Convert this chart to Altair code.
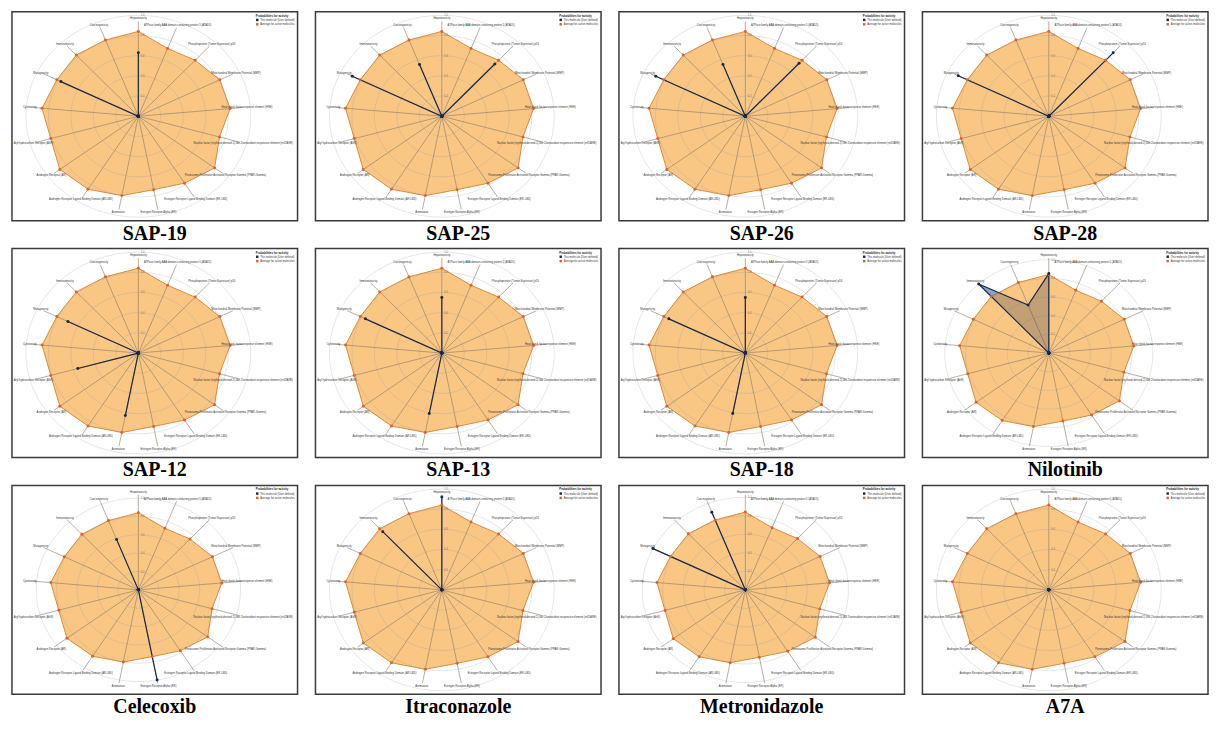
import altair as alt
import pandas as pd

# ---------------- data ----------------
AXES = [
    "Hepatotoxicity",
    "ATPase family AAA domain-containing protein 5 (ATAD5)",
    "Phosphoprotein (Tumor Supressor) p53",
    "Mitochondrial Membrane Potential (MMP)",
    "Heat shock factor response element (HSE)",
    "Nuclear factor (erythroid-derived 2)-like 2/antioxidant responsive element (nrf2/ARE)",
    "Peroxisome Proliferator Activated Receptor Gamma (PPAR-Gamma)",
    "Estrogen Receptor Ligand Binding Domain (ER-LBD)",
    "Estrogen Receptor Alpha (ER)",
    "Aromatase",
    "Androgen Receptor Ligand Binding Domain (AR-LBD)",
    "Androgen Receptor (AR)",
    "Aryl hydrocarbon Receptor (AhR)",
    "Cytotoxicity",
    "Mutagenicity",
    "Immunotoxicity",
    "Carcinogenicity",
]

AVERAGE = [0.84, 0.72, 0.75, 0.81, 0.82, 0.75, 0.85, 0.78, 0.74,
           0.80, 0.85, 0.875, 0.81, 0.86, 0.81, 0.82, 0.81]

PANELS = ["SAP-19", "SAP-25", "SAP-26", "SAP-28",
          "SAP-12", "SAP-13", "SAP-18", "Nilotinib",
          "Celecoxib", "Itraconazole", "Metronidazole", "A7A"]

#            Hep  ATAD p53  MMP  HSE  nrf2 PPAR ERL  ER   Arom ARL  AR   AhR  Cyto Mut  Immu Carc
SAP_19 =    [0.63, 0, 0,    0,   0,   0,   0,   0,   0,   0,   0,   0,   0,   0,   0.77, 0,  0]
SAP_25 =    [0,    0, 0.70, 0,   0,   0,   0,   0,   0,   0,   0,   0,   0,   0,   0.89, 0,  0.55]
SAP_26 =    [0,    0, 0.71, 0,   0,   0,   0,   0,   0,   0,   0,   0,   0,   0,   0.89, 0,  0.55]
SAP_28 =    [0,    0, 0.85, 0,   0,   0,   0,   0,   0,   0,   0,   0,   0,   0,   0.90, 0,  0]
SAP_12 =    [0,    0, 0,    0,   0,   0,   0,   0,   0,   0.63, 0,  0,   0.56, 0,  0.70, 0,  0]
SAP_13 =    [0.55, 0, 0,    0,   0,   0,   0,   0,   0,   0.61, 0,  0,   0,   0,   0.76, 0,  0]
SAP_18 =    [0.55, 0, 0,    0,   0,   0,   0,   0,   0,   0.61, 0,  0,   0,   0,   0.76, 0,  0]
NILOTINIB = [0.85, 0, 0,    0,   0,   0,   0,   0,   0,   0,   0,   0,   0,   0,   0,   1.0, 0.55]
CELECOXIB = [0,    0, 0,    0,   0,   0,   0,   0,   1.0, 0,   0,   0,   0,   0,   0,   0,  0.59]
ITRACONAZOLE = [0.92, 0, 0, 0,   0,   0,   0,   0,   0,   0,   0,   0,   0,   0,   0,   0.78, 0]
METRONIDAZOLE = [0,  0, 0,  0,   0,   0,   0,   0,   0,   0,   0,   0,   0,   0,   1.0, 0,  0.90]
A7A =       [0,    0, 0,    0,   0,   0,   0,   0,   0,   0,   0,   0,   0,   0,   0,   0,  0]

MOLECULE = {
    "SAP-19": SAP_19, "SAP-25": SAP_25, "SAP-26": SAP_26, "SAP-28": SAP_28,
    "SAP-12": SAP_12, "SAP-13": SAP_13, "SAP-18": SAP_18, "Nilotinib": NILOTINIB,
    "Celecoxib": CELECOXIB, "Itraconazole": ITRACONAZOLE,
    "Metronidazole": METRONIDAZOLE, "A7A": A7A,
}

# radial axis maximum of each panel (the radar is auto-scaled per molecule)
AXIS_MAX = {"Nilotinib": 1.08, "Celecoxib": 1.10, "Metronidazole": 1.09}

RING_TICKS = [0.2, 0.4, 0.6, 0.8, 1.0]
SERIES = ["This molecule (User defined)", "Average for active molecules"]

# ---------------- style ----------------
W, H = 287, 210
N = len(AXES)
XDOM = [-1.124, 1.416]
YDOM = [-1.035, 1.035]
ORANGE_FILL = "#f9c684"
ORANGE_LINE = "#d98a3c"
ORANGE_DOT = "#e0602a"
NAVY = "#1b2747"
BLUE_FILL = "#a9d1f1"
LABEL_R = 0.97
SANS = "Liberation Sans"
LBL = 2.7


def panel(name):
    rmax = AXIS_MAX.get(name, 1.0)
    mol = MOLECULE[name]
    rows = []
    for s, vals in ((SERIES[1], AVERAGE), (SERIES[0], mol)):
        for i in range(N + 1):
            rows.append({"series": s, "idx": i, "value": vals[i % N]})
    df = pd.DataFrame(rows)
    ax_df = pd.DataFrame({"idx": list(range(N)), "label": AXES})
    tick_df = pd.DataFrame({"tick": RING_TICKS,
                            "txt": [f"{t:.1f}" for t in RING_TICKS]})

    xs = alt.Scale(domain=XDOM, nice=False, zero=False)
    ys = alt.Scale(domain=YDOM, nice=False, zero=False)
    X = lambda f: alt.X(f, type="quantitative", scale=xs, axis=None)
    Y = lambda f: alt.Y(f, type="quantitative", scale=ys, axis=None)

    base = alt.Chart(df).transform_calculate(
        r=f"datum.value / {rmax}",
        px=f"datum.r * sin(datum.idx * 2 * PI / {N})",
        py=f"datum.r * cos(datum.idx * 2 * PI / {N})",
    )
    mol_base = base.transform_filter(f"datum.series == '{SERIES[0]}'")

    mol_under = mol_base.mark_line(fill=BLUE_FILL, fillOpacity=1, strokeWidth=0).encode(
        x=X("px"), y=Y("py"), order="idx:Q")

    avg_poly = base.transform_filter(f"datum.series == '{SERIES[1]}'").mark_line(
        fill=ORANGE_FILL, stroke=ORANGE_LINE, strokeWidth=1.0, fillOpacity=1
    ).encode(x=X("px"), y=Y("py"), order="idx:Q")

    rings = []
    for t in RING_TICKS:
        rings.append(
            alt.Chart(alt.sequence(0, 361, 5, as_="deg")).transform_calculate(
                px=f"{t / rmax} * sin(datum.deg * PI / 180)",
                py=f"{t / rmax} * cos(datum.deg * PI / 180)",
            ).mark_line(stroke="#8e9aa6", strokeWidth=0.6, opacity=0.4)
            .encode(x=X("px"), y=Y("py"), order="deg:Q")
        )

    spokes = alt.Chart(ax_df).transform_calculate(
        x0="0", y0="0",
        x1=f"{LABEL_R - 0.03} * sin(datum.idx * 2 * PI / {N})",
        y1=f"{LABEL_R - 0.03} * cos(datum.idx * 2 * PI / {N})",
    ).mark_rule(color="#8f7e6c", strokeWidth=0.75, opacity=0.85).encode(
        x=X("x0"), y=Y("y0"), x2="x1:Q", y2="y1:Q")

    mol_poly = mol_base.mark_line(
        fill=NAVY, fillOpacity=0.24, stroke=NAVY, strokeWidth=1.2
    ).encode(x=X("px"), y=Y("py"), order="idx:Q")

    dots = base.transform_filter(f"datum.idx < {N}").mark_point(
        filled=True, size=9, opacity=1
    ).encode(
        x=X("px"), y=Y("py"),
        color=alt.Color("series:N", scale=alt.Scale(domain=SERIES, range=[NAVY, ORANGE_DOT]),
                        legend=alt.Legend(title="Probabilities for activity", orient="top-right",
                                          offset=3, titleFontSize=2.9, labelFontSize=2.7,
                                          titleFont=SANS, labelFont=SANS, symbolType="square",
                                          symbolSize=6, symbolStrokeWidth=0, padding=0,
                                          rowPadding=0.4, titlePadding=0.8, labelOffset=1.5,
                                          labelLimit=300, titleLimit=300, titleColor="#222",
                                          labelColor="#333")),
        order=alt.Order("series:N", sort="ascending"),
    )

    labels = alt.Chart(ax_df).transform_calculate(
        px=f"{LABEL_R} * sin(datum.idx * 2 * PI / {N})",
        py=f"{LABEL_R} * cos(datum.idx * 2 * PI / {N})",
    ).mark_text(fontSize=LBL, font=SANS, color="#333", align="center", baseline="middle").encode(
        x=X("px"), y=Y("py"), text="label:N")

    ticks = alt.Chart(tick_df).transform_calculate(
        px="0", py=f"datum.tick / {rmax}",
    ).mark_text(fontSize=2.6, font=SANS, color="#777", align="left", baseline="middle", dx=2.5).encode(
        x=X("px"), y=Y("py"), text="txt:N")

    return alt.layer(mol_under, avg_poly, *rings, spokes, mol_poly, dots, labels, ticks).properties(
        width=W, height=H,
        title=alt.TitleParams(name, orient="bottom", font="Liberation Serif", fontSize=20,
                              fontWeight="bold", color="black", offset=3, anchor="middle"),
    )


rows = []
for r in range(3):
    rows.append(
        alt.hconcat(*[panel(p) for p in PANELS[r * 4:(r + 1) * 4]], spacing=16)
        .resolve_scale(color="independent").resolve_legend(color="independent")
    )

chart = alt.vconcat(*rows, spacing=3).resolve_scale(color="independent").resolve_legend(
    color="independent"
).properties(
    padding={"left": 3, "top": 1, "right": 0, "bottom": 0},
    background="white",
).configure_view(stroke="#3a3a3a", strokeWidth=1.5)

chart.save("out.html", embed_options={"renderer": "svg", "actions": False})
